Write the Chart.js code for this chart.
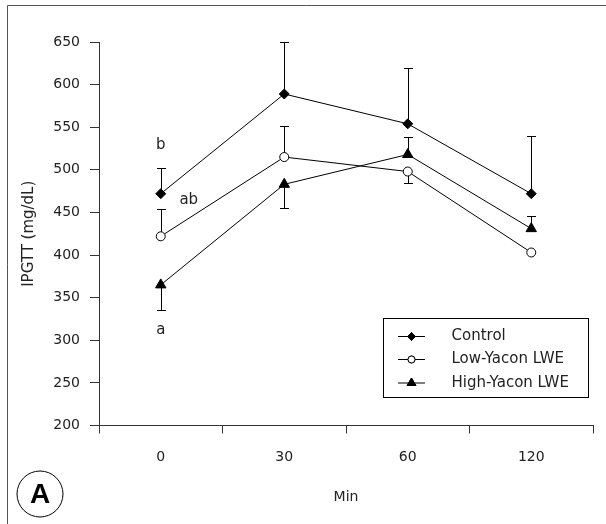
<!DOCTYPE html>
<html>
<head>
<meta charset="utf-8">
<script src="https://cdn.jsdelivr.net/npm/chart.js@4.4.1/dist/chart.umd.min.js"></script>
<style>
  html, body { margin: 0; padding: 0; background: #fff; }
  canvas { display: block; }
</style>
</head>
<body>
<canvas id="chart" width="606" height="524"></canvas>
<script>
// IPGTT (mg/dL) over time
const minutes = ["0", "30", "60", "120"];
const controlValues = [472, 589, 554, 472];
const lowYaconValues = [422, 515, 498, 403];
const highYaconValues = [365, 483, 518, 431];

// one-sided error bars, sign tells which side is drawn
const controlErr = [30, 61, 65, 68];
const lowYaconErr = [32, 36, -13, 0];
const highYaconErr = [-29, -28, 20, 15];

const seriesNames = ["Control", "Low-Yacon LWE", "High-Yacon LWE"];
const yMin = 200;
const yMax = 650;
const yStep = 50;

// significance letters at time 0
const letters = ["b", "ab", "a"];
const letterValues = [529, 464, 312];

const FONT = "'DejaVu Sans', sans-serif";
const INK = "#222";

const styles = [
  { pointStyle: "rectRot", pointRadius: 5, fill: "#000" },
  { pointStyle: "circle", pointRadius: 4.5, fill: "#fff" },
  { pointStyle: "triangle", pointRadius: 6, fill: "#000" },
];

const extras = {
  id: "extras",
  beforeDatasetsDraw(chart) {
    const ctx = chart.ctx;
    const xs = chart.scales.x;
    const ys = chart.scales.y;
    ctx.save();
    ctx.strokeStyle = "#000";
    ctx.lineWidth = 1;
    chart.data.datasets.forEach((ds) => {
      ds.errors.forEach((e, i) => {
        if (!e) return;
        const px = Math.round(xs.getPixelForValue(i)) + 0.5;
        const y0 = ys.getPixelForValue(ds.data[i]);
        const y1 = Math.round(ys.getPixelForValue(ds.data[i] + e)) + 0.5;
        ctx.beginPath();
        ctx.moveTo(px, y0);
        ctx.lineTo(px, y1);
        ctx.moveTo(px - 4.5, y1);
        ctx.lineTo(px + 4.5, y1);
        ctx.stroke();
      });
    });
    ctx.restore();
  },
  afterDraw(chart) {
    const ctx = chart.ctx;
    const xs = chart.scales.x;
    const ys = chart.scales.y;
    ctx.save();

    // figure frame (top and left only)
    ctx.strokeStyle = "#555";
    ctx.lineWidth = 1;
    ctx.beginPath();
    ctx.moveTo(7.5, 524);
    ctx.lineTo(7.5, 5.5);
    ctx.lineTo(606, 5.5);
    ctx.stroke();

    // panel mark
    ctx.strokeStyle = "#000";
    ctx.beginPath();
    ctx.arc(40, 494, 23, 0, Math.PI * 2);
    ctx.stroke();
    ctx.fillStyle = "#000";
    ctx.font = "bold 28px 'Liberation Sans', sans-serif";
    ctx.textAlign = "center";
    ctx.textBaseline = "middle";
    ctx.fillText("A", 40, 495);

    // letters
    ctx.fillStyle = INK;
    ctx.font = "15px " + FONT;
    const x0 = xs.getPixelForValue(0);
    letters.forEach((t, i) => {
      const dx = i === 1 ? 28 : 0;
      ctx.fillText(t, x0 + dx, ys.getPixelForValue(letterValues[i]));
    });

    // legend
    ctx.strokeStyle = "#000";
    ctx.strokeRect(383.5, 318.5, 205, 79);
    const rows = [336.5, 359.5, 383];
    ctx.textAlign = "left";
    chart.data.datasets.forEach((ds, i) => {
      const ry = rows[i];
      ctx.beginPath();
      ctx.moveTo(398, ry);
      ctx.lineTo(425, ry);
      ctx.stroke();
      ctx.fillStyle = styles[i].fill;
      Chart.helpers.drawPoint(ctx, {
        pointStyle: styles[i].pointStyle,
        radius: styles[i].pointRadius - 1,
        rotation: 0,
        borderWidth: 1,
      }, 411.5, ry);
      ctx.fill();
      ctx.stroke();
      ctx.fillStyle = INK;
      ctx.fillText(ds.label, 451.5, ry);
    });
    ctx.restore();
  },
};

function makeSet(i, values, errs) {
  return {
    label: seriesNames[i],
    data: values,
    errors: errs,
    borderColor: "#000",
    borderWidth: 1,
    pointStyle: styles[i].pointStyle,
    pointRadius: styles[i].pointRadius,
    pointBackgroundColor: styles[i].fill,
    pointBorderColor: "#000",
    pointBorderWidth: 1,
    tension: 0,
    fill: false,
  };
}

new Chart(document.getElementById("chart"), {
  type: "line",
  data: {
    labels: minutes,
    datasets: [
      makeSet(0, controlValues, controlErr),
      makeSet(1, lowYaconValues, lowYaconErr),
      makeSet(2, highYaconValues, highYaconErr),
    ],
  },
  options: {
    responsive: false,
    animation: false,
    devicePixelRatio: 1,
    layout: { padding: { left: 0, right: 13, top: 42, bottom: 0 } },
    plugins: { legend: { display: false }, tooltip: { enabled: false } },
    scales: {
      x: {
        offset: true,
        afterFit: (s) => { s.height = 98.5; },
        grid: { offset: true, drawOnChartArea: false, color: "#333", tickLength: 8 },
        border: { color: "#333", width: 1 },
        ticks: { color: INK, font: { family: FONT, size: 14 }, padding: 15 },
        title: { display: true, text: "Min", color: INK, font: { family: FONT, size: 14 }, padding: { top: 0, bottom: 18 } },
      },
      y: {
        min: yMin,
        max: yMax,
        afterFit: (s) => { s.width = 99; },
        grid: { drawOnChartArea: false, color: "#333", tickLength: 9 },
        border: { color: "#333", width: 1 },
        ticks: { stepSize: yStep, color: INK, font: { family: FONT, size: 14 }, padding: 10 },
        title: { display: true, text: "IPGTT (mg/dL)", color: INK, font: { family: FONT, size: 15 }, padding: { top: 20, bottom: 0 } },
      },
    },
  },
  plugins: [extras],
});
</script>
</body>
</html>
